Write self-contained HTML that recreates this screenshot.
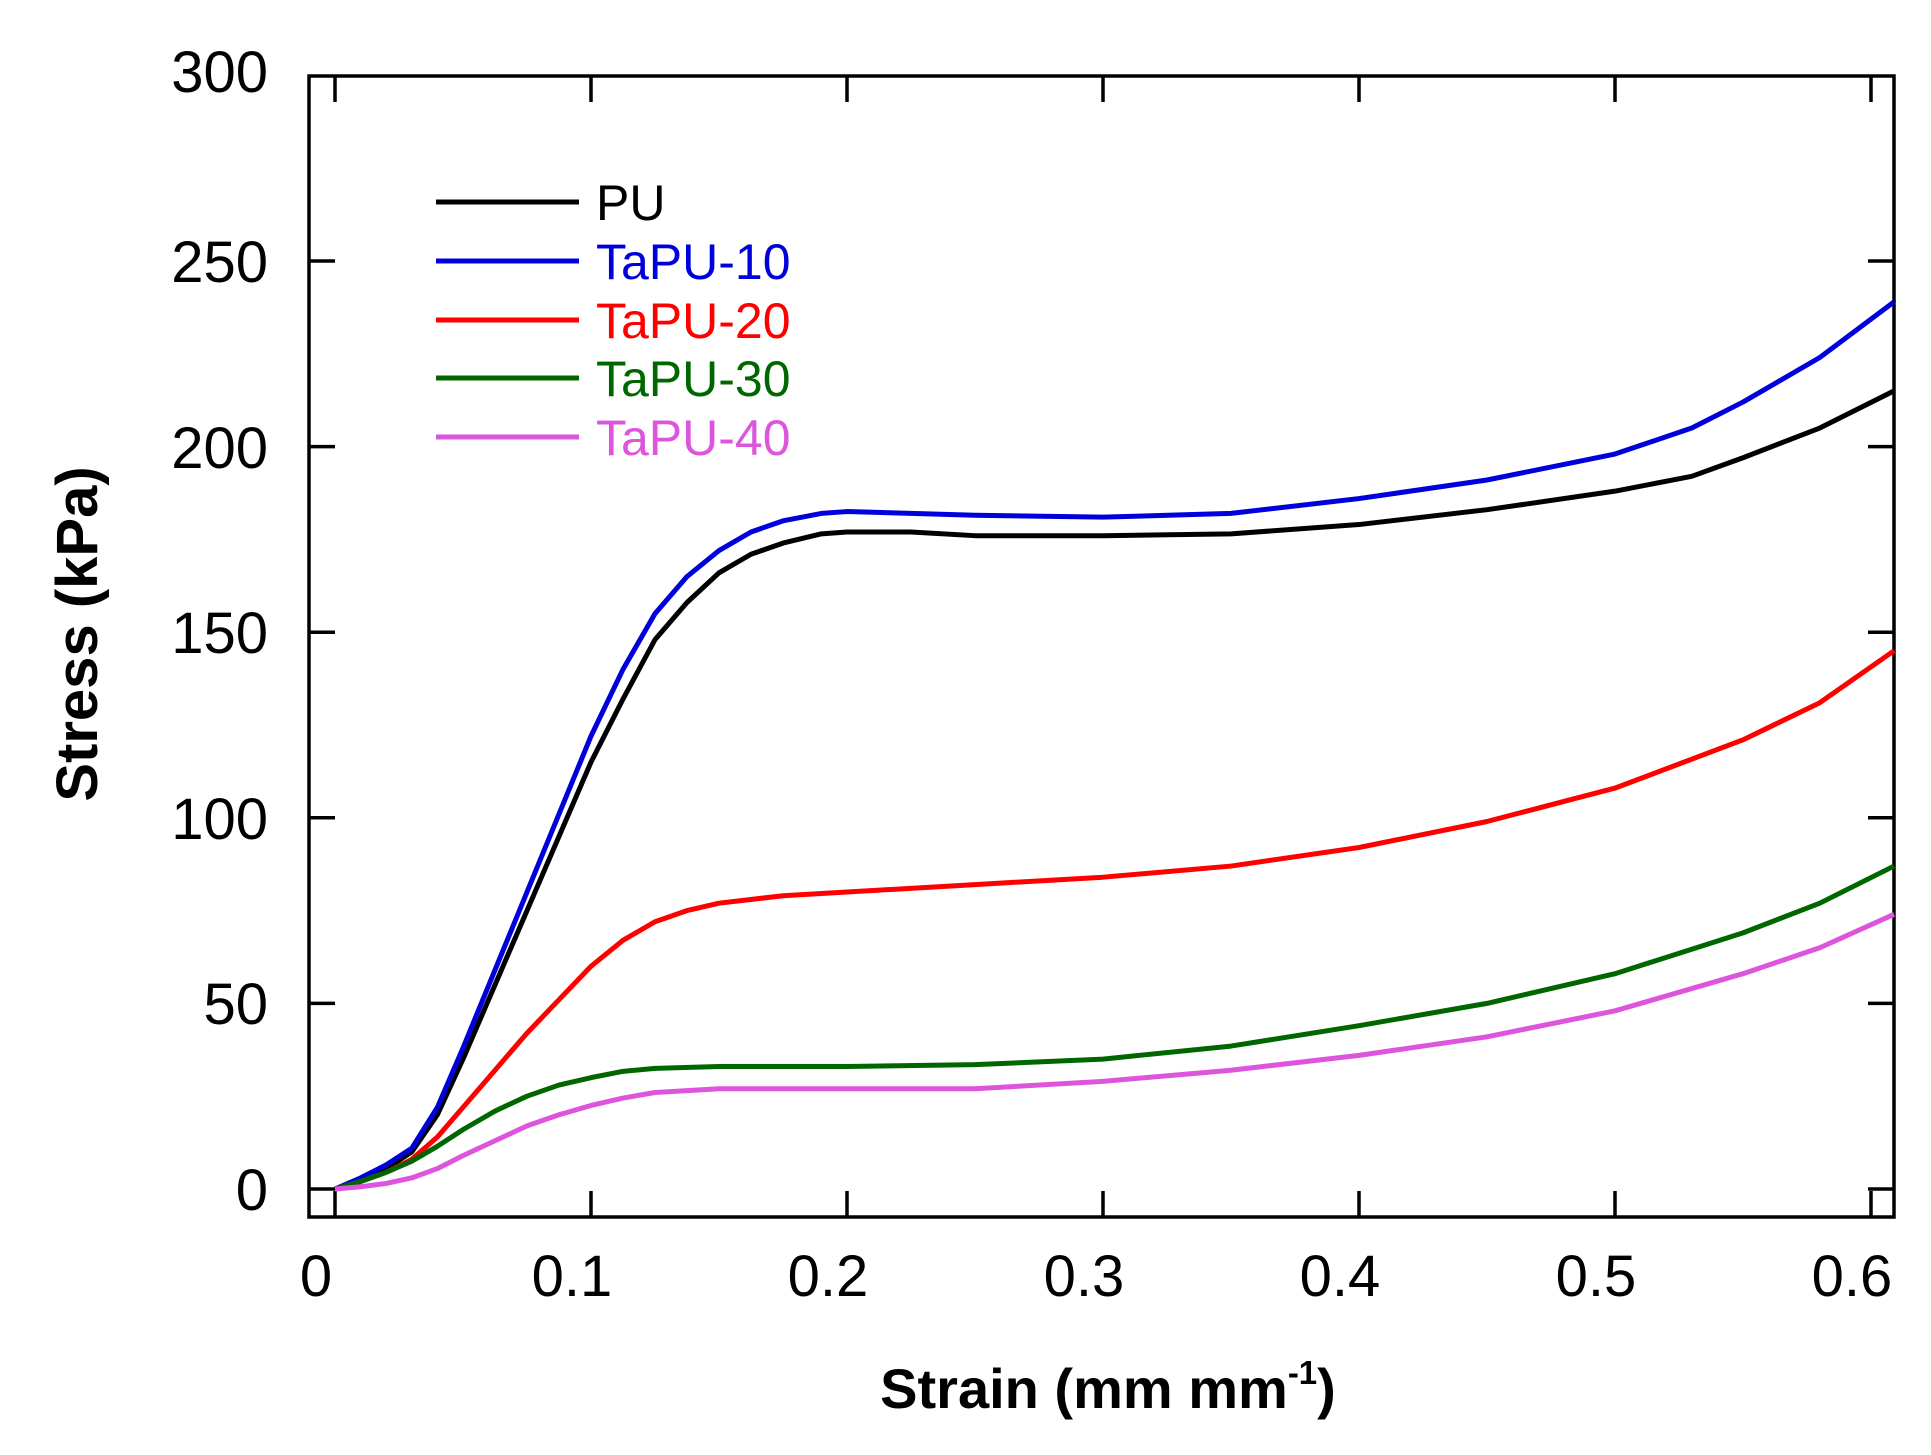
<!DOCTYPE html>
<html><head><meta charset="utf-8"><style>
html,body{margin:0;padding:0;background:#fff;}
svg{display:block;}
text{font-family:"Liberation Sans",sans-serif;}
</style></head><body>
<svg width="1931" height="1455" viewBox="0 0 1931 1455" xmlns="http://www.w3.org/2000/svg">
<rect width="1931" height="1455" fill="#fff"/>
<g stroke="#000" stroke-width="3.5" fill="none">
<rect x="309" y="76" width="1585" height="1141"/>
<path d="M335 1217V1191M591 1217V1191M847 1217V1191M1103 1217V1191M1359 1217V1191M1615 1217V1191M1871 1217V1191
M335 76V102M591 76V102M847 76V102M1103 76V102M1359 76V102M1615 76V102M1871 76V102"/>
<path d="M309 1189H335M309 1003.4H335M309 817.8H335M309 632.2H335M309 446.6H335M309 261H335
M1894 1189H1868M1894 1003.4H1868M1894 817.8H1868M1894 632.2H1868M1894 446.6H1868M1894 261H1868"/>
</g>
<g font-size="58" fill="#000" text-anchor="end">
<text x="268" y="1210">0</text>
<text x="268" y="1024">50</text>
<text x="268" y="839">100</text>
<text x="268" y="653">150</text>
<text x="268" y="468">200</text>
<text x="268" y="282">250</text>
<text x="268" y="92">300</text>
</g>
<g font-size="58" fill="#000" text-anchor="middle">
<text x="316" y="1296">0</text>
<text x="572" y="1296">0.1</text>
<text x="828" y="1296">0.2</text>
<text x="1084" y="1296">0.3</text>
<text x="1340" y="1296">0.4</text>
<text x="1596" y="1296">0.5</text>
<text x="1852" y="1296">0.6</text>
</g>
<text x="1108" y="1408" font-size="56" font-weight="bold" text-anchor="middle">Strain (mm mm<tspan font-size="33" dy="-24">-1</tspan><tspan dy="24">)</tspan></text>
<text transform="translate(97,634) rotate(-90)" font-size="58" font-weight="bold" text-anchor="middle">Stress (kPa)</text>
<g transform="translate(335,1189) scale(2560,-3.712)" fill="none" stroke-width="5" stroke-linejoin="round">
<polyline vector-effect="non-scaling-stroke" stroke="#000" points="0,0 0.01,2.5 0.02,5.5 0.03,10 0.04,20 0.05,35 0.0625,55 0.075,75 0.0875,95 0.1,115 0.1125,132 0.125,148 0.1375,158 0.15,166 0.1625,171 0.175,174 0.19,176.5 0.2,177 0.225,177 0.25,176 0.3,176 0.35,176.5 0.4,179 0.45,183 0.5,188 0.53,192 0.55,197 0.58,205 0.609,215"/>
<polyline vector-effect="non-scaling-stroke" stroke="#0000dd" points="0,0 0.01,3 0.02,6.5 0.03,11 0.04,22 0.05,38 0.0625,59 0.075,80 0.0875,101 0.1,122 0.1125,140 0.125,155 0.1375,165 0.15,172 0.1625,177 0.175,180 0.19,182 0.2,182.5 0.225,182 0.25,181.5 0.3,181 0.35,182 0.4,186 0.45,191 0.5,198 0.53,205 0.55,212 0.58,224 0.609,239"/>
<polyline vector-effect="non-scaling-stroke" stroke="#ff0000" points="0,0 0.01,2 0.02,4.5 0.03,8 0.04,14 0.05,22 0.0625,32 0.075,42 0.0875,51 0.1,60 0.1125,67 0.125,72 0.1375,75 0.15,77 0.175,79 0.2,80 0.25,82 0.3,84 0.35,87 0.4,92 0.45,99 0.5,108 0.55,121 0.58,131 0.609,145"/>
<polyline vector-effect="non-scaling-stroke" stroke="#006600" points="0,0 0.01,2 0.02,4.5 0.03,7.5 0.04,11.5 0.05,16 0.0625,21 0.075,25 0.0875,28 0.1,30 0.1125,31.7 0.125,32.5 0.15,33 0.2,33 0.25,33.5 0.3,35 0.35,38.5 0.4,44 0.45,50 0.5,58 0.55,69 0.58,77 0.609,87"/>
<polyline vector-effect="non-scaling-stroke" stroke="#dd55dd" points="0,0 0.01,0.6 0.02,1.5 0.03,3 0.04,5.5 0.05,9 0.0625,13 0.075,17 0.0875,20 0.1,22.5 0.1125,24.5 0.125,26 0.15,27 0.2,27 0.25,27 0.3,29 0.35,32 0.4,36 0.45,41 0.5,48 0.55,58 0.58,65 0.609,74"/>
</g>
<g stroke-width="5">
<line x1="436" y1="202" x2="579" y2="202" stroke="#000"/>
<line x1="436" y1="261" x2="579" y2="261" stroke="#0000dd"/>
<line x1="436" y1="320" x2="579" y2="320" stroke="#ff0000"/>
<line x1="436" y1="378" x2="579" y2="378" stroke="#006600"/>
<line x1="436" y1="437" x2="579" y2="437" stroke="#dd55dd"/>
</g>
<g font-size="50">
<text x="596" y="220" fill="#000">PU</text>
<text x="596" y="279" fill="#0000dd">TaPU-10</text>
<text x="596" y="338" fill="#ff0000">TaPU-20</text>
<text x="596" y="396" fill="#006600">TaPU-30</text>
<text x="596" y="455" fill="#dd55dd">TaPU-40</text>
</g>
</svg>
</body></html>
